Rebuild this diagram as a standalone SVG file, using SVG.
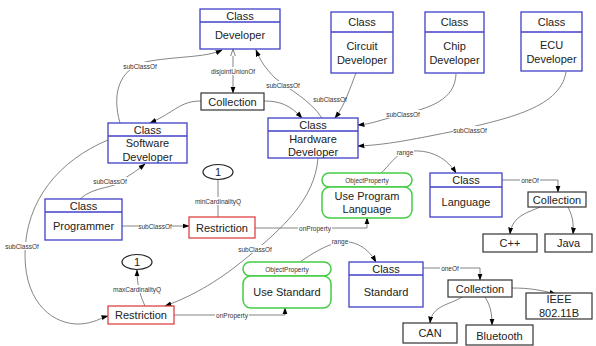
<svg xmlns="http://www.w3.org/2000/svg" width="596" height="346" viewBox="0 0 596 346">
<defs>
<marker id="ar" viewBox="0 0 10 10" refX="9" refY="5" markerWidth="9" markerHeight="9" orient="auto-start-reverse"><path d="M0,1.5 L10,5 L0,8.5 z" fill="#000"/></marker>
<marker id="hol" viewBox="0 0 10 10" refX="9" refY="5" markerWidth="9" markerHeight="9" orient="auto-start-reverse"><path d="M0,1.5 L10,5 L0,8.5 z" fill="#fff" stroke="#555" stroke-width="1"/></marker>
</defs>
<style>
.cls{fill:#fff;stroke:#4040c8;stroke-width:1.3}
.box{fill:#fff;stroke:#333;stroke-width:1.2}
.res{fill:#fff;stroke:#dd4444;stroke-width:1.3}
.op{fill:#fff;stroke:#44cc44;stroke-width:1.5}
.t{font-family:"Liberation Sans",Arial,sans-serif;font-size:11px;fill:#222;text-anchor:middle;dominant-baseline:central}
.s{font-family:"Liberation Sans",Arial,sans-serif;font-size:6.5px;fill:#333;text-anchor:middle;dominant-baseline:central}
.sl{font-family:"Liberation Sans",Arial,sans-serif;font-size:6.5px;fill:#333;text-anchor:middle;dominant-baseline:central}
.e{fill:none;stroke:#666;stroke-width:0.8}
.ea{fill:none;stroke:#666;stroke-width:0.8;marker-end:url(#ar)}
.lb{fill:#fff}
</style>
<rect width="596" height="346" fill="#fff"/>
<g id="connectors">
<path class="ea" d="M120,123 C112,95 118,70 145,62 C175,56 205,58 222,50"/>
<path class="e" d="M233,50 L233,93" marker-start="url(#hol)" marker-end="url(#ar)"/>
<path class="ea" d="M322,118 C310,100 290,90 275,78 C265,68 260,60 256,50"/>
<path class="ea" d="M201,101 C180,101 175,112 150,123"/>
<path class="ea" d="M264,101 C280,101 290,105 302,118"/>
<path class="ea" d="M356,73 C350,88 345,105 335,118"/>
<path class="ea" d="M456,74 C455,100 430,108 400,115 C380,120 372,124 358,125"/>
<path class="ea" d="M566,72 C560,110 500,120 450,132 C410,140 385,145 358,146"/>
<path class="ea" d="M80,199 C95,185 115,190 125,178 C135,172 140,168 145,164"/>
<path class="ea" d="M122,226 L189,226"/>
<path class="e" d="M218,217 L218,179"/>
<path class="ea" d="M255,228 L367,228 L367,218"/>
<path class="ea" d="M108,140 C60,160 25,200 25,255 C25,305 55,325 80,324 C95,323 100,318 108,316"/>
<path class="ea" d="M318,158 C315,200 280,230 250,255 C220,280 195,295 165,306"/>
<path class="ea" d="M145,306 C140,295 137,285 137,270"/>
<path class="ea" d="M174,315 L285,315 L285,308"/>
<path class="ea" d="M380,174 C390,165 395,155 405,152 C425,148 445,155 456,173"/>
<path class="ea" d="M300,262 C310,255 325,245 340,242 C355,240 368,248 376,262"/>
<path class="ea" d="M502,180 L558,180 L558,192"/>
<path class="ea" d="M540,207 C530,212 512,215 510,234"/>
<path class="ea" d="M568,207 C572,215 574,222 573,234"/>
<path class="ea" d="M423,268 L480,268 L480,280"/>
<path class="ea" d="M512,288 C530,288 540,290 556,294"/>
<path class="ea" d="M462,297 C450,305 432,305 430,323"/>
<path class="ea" d="M485,297 C490,305 492,312 492,325"/>
<g>
<rect class="lb" x="123" y="62" width="34" height="8"/><text class="s" x="140" y="66">subClassOf</text>
<rect class="lb" x="211" y="67" width="44" height="8"/><text class="s" x="233" y="71">disjointUnionOf</text>
<rect class="lb" x="266" y="81" width="34" height="8"/><text class="s" x="283" y="85">subClassOf</text>
<text class="s" x="330" y="99">subClassOf</text>
<rect class="lb" x="386" y="110" width="34" height="8"/><text class="s" x="403" y="114">subClassOf</text>
<rect class="lb" x="453" y="126" width="34" height="8"/><text class="s" x="470" y="130">subClassOf</text>
<rect class="lb" x="93" y="177" width="34" height="8"/><text class="s" x="110" y="181">subClassOf</text>
<rect class="lb" x="138" y="222" width="34" height="8"/><text class="s" x="155" y="226">subClassOf</text>
<rect class="lb" x="194" y="197" width="48" height="8"/><text class="s" x="218" y="201">minCardinalityQ</text>
<rect class="lb" x="298" y="224" width="34" height="8"/><text class="s" x="315" y="228">onProperty</text>
<rect class="lb" x="5" y="242" width="34" height="8"/><text class="s" x="22" y="246">subClassOf</text>
<rect class="lb" x="238" y="245" width="34" height="8"/><text class="s" x="255" y="249">subClassOf</text>
<rect class="lb" x="113" y="285" width="48" height="8"/><text class="s" x="137" y="289">maxCardinalityQ</text>
<rect class="lb" x="215" y="311" width="34" height="8"/><text class="s" x="232" y="315">onProperty</text>
<rect class="lb" x="396" y="148" width="18" height="8"/><text class="s" x="405" y="152">range</text>
<rect class="lb" x="331" y="237" width="18" height="8"/><text class="s" x="340" y="241">range</text>
<rect class="lb" x="520" y="176" width="20" height="8"/><text class="s" x="530" y="180">oneOf</text>
<rect class="lb" x="440" y="264" width="20" height="8"/><text class="s" x="450" y="268">oneOf</text>
</g>
</g>
<g id="developer"><rect class="cls" x="200" y="9" width="80" height="40"/><line class="cls" x1="200" y1="22" x2="280" y2="22"/><text class="t" x="240" y="15.5">Class</text><text class="t" x="240" y="35">Developer</text></g>
<g id="circuit"><rect class="cls" x="331" y="12" width="62" height="61"/><line class="cls" x1="331" y1="32" x2="393" y2="32"/><text class="t" x="362" y="22">Class</text><text class="t" x="362" y="46">Circuit</text><text class="t" x="362" y="60">Developer</text></g>
<g id="chip"><rect class="cls" x="425" y="12" width="59" height="61"/><line class="cls" x1="425" y1="32" x2="484" y2="32"/><text class="t" x="454.5" y="22">Class</text><text class="t" x="454.5" y="46">Chip</text><text class="t" x="454.5" y="60">Developer</text></g>
<g id="ecu"><rect class="cls" x="521" y="12" width="61" height="59"/><line class="cls" x1="521" y1="32" x2="582" y2="32"/><text class="t" x="551.5" y="22">Class</text><text class="t" x="551.5" y="45">ECU</text><text class="t" x="551.5" y="59">Developer</text></g>
<g id="collection1"><rect class="box" x="201" y="93" width="63" height="17"/><text class="t" x="232.5" y="101.5">Collection</text></g>
<g id="hardware"><rect class="cls" x="268" y="118" width="90" height="40"/><line class="cls" x1="268" y1="131" x2="358" y2="131"/><text class="t" x="313" y="124.5">Class</text><text class="t" x="313" y="139">Hardware</text><text class="t" x="313" y="152">Developer</text></g>
<g id="software"><rect class="cls" x="108" y="123" width="79" height="40"/><line class="cls" x1="108" y1="136" x2="187" y2="136"/><text class="t" x="147.5" y="129.5">Class</text><text class="t" x="147.5" y="143">Software</text><text class="t" x="147.5" y="157">Developer</text></g>
<g id="programmer"><rect class="cls" x="45" y="199" width="77" height="41"/><line class="cls" x1="45" y1="212" x2="122" y2="212"/><text class="t" x="83.5" y="205.5">Class</text><text class="t" x="83.5" y="226">Programmer</text></g>
<g id="one1"><ellipse cx="218" cy="172" rx="15" ry="7.5" fill="#fff" stroke="#222" stroke-width="1.2"/><text class="t" x="218" y="172">1</text></g>
<g id="restriction1"><rect class="res" x="189" y="217" width="66" height="21"/><text class="t" x="222" y="227.5">Restriction</text></g>
<g id="useprogram"><rect class="op" x="322" y="173" width="90" height="14" rx="7"/><text class="sl" x="367" y="180">ObjectProperty</text><rect class="op" x="322" y="187" width="90" height="31" rx="8"/><text class="t" x="367" y="196">Use Program</text><text class="t" x="367" y="209">Language</text></g>
<g id="language"><rect class="cls" x="430" y="173" width="72" height="44"/><line class="cls" x1="430" y1="187" x2="502" y2="187"/><text class="t" x="466" y="180">Class</text><text class="t" x="466" y="202">Language</text></g>
<g id="collection2"><rect class="box" x="528" y="192" width="58" height="15"/><text class="t" x="557" y="199.5">Collection</text></g>
<g id="cpp"><rect class="box" x="483" y="234" width="54" height="18"/><text class="t" x="510" y="243">C++</text></g>
<g id="java"><rect class="box" x="545" y="234" width="47" height="18"/><text class="t" x="568.5" y="243">Java</text></g>
<g id="one2"><ellipse cx="137" cy="262" rx="15" ry="7.5" fill="#fff" stroke="#222" stroke-width="1.2"/><text class="t" x="137" y="262">1</text></g>
<g id="restriction2"><rect class="res" x="108" y="306" width="66" height="18"/><text class="t" x="141" y="315">Restriction</text></g>
<g id="usestandard"><rect class="op" x="243" y="262" width="88" height="14" rx="7"/><text class="sl" x="287" y="269">ObjectProperty</text><rect class="op" x="243" y="276" width="88" height="32" rx="8"/><text class="t" x="287" y="292">Use Standard</text></g>
<g id="standard"><rect class="cls" x="349" y="262" width="74" height="45"/><line class="cls" x1="349" y1="275" x2="423" y2="275"/><text class="t" x="386" y="268.5">Class</text><text class="t" x="386" y="292">Standard</text></g>
<g id="collection3"><rect class="box" x="448" y="280" width="64" height="17"/><text class="t" x="480" y="288.5">Collection</text></g>
<g id="ieee"><rect class="box" x="526" y="293" width="66" height="26"/><text class="t" x="559" y="299">IEEE</text><text class="t" x="559" y="313">802.11B</text></g>
<g id="can"><rect class="box" x="403" y="323" width="54" height="20"/><text class="t" x="430" y="332.5">CAN</text></g>
<g id="bluetooth"><rect class="box" x="466" y="325" width="67" height="20"/><text class="t" x="499.5" y="335.5">Bluetooth</text></g>
</svg>
